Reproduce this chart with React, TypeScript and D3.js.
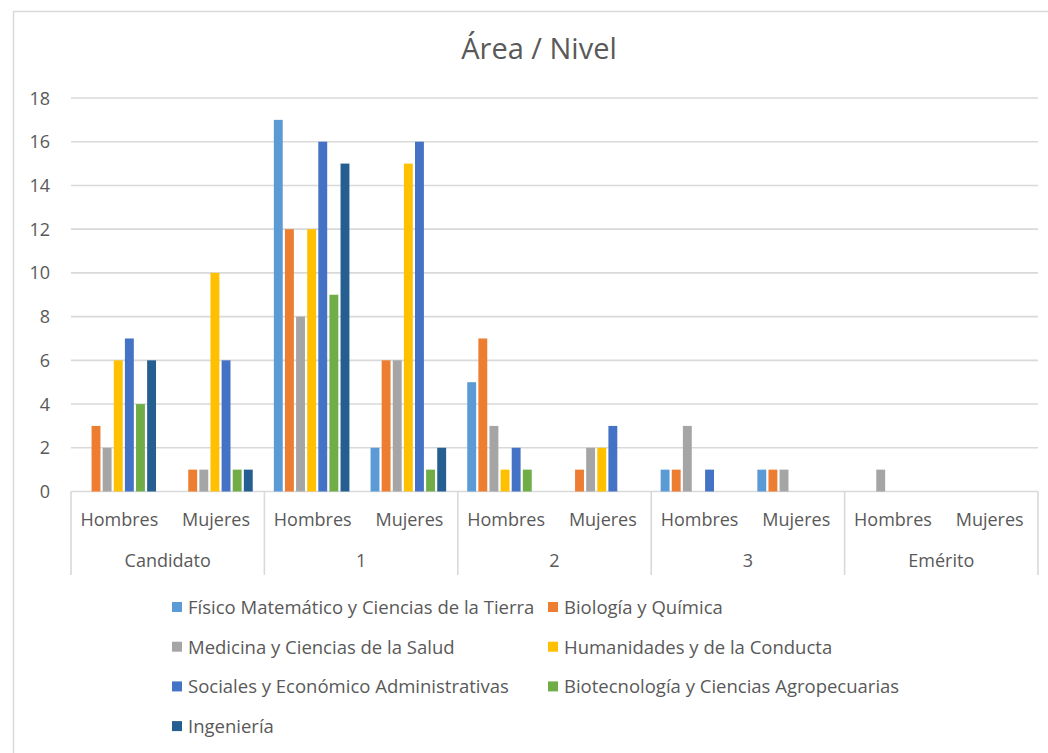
import React from "react";
import * as d3 from "d3";

const title = "Área / Nivel";
const levels = ["Candidato", "1", "2", "3", "Emérito"];
const genders = ["Hombres", "Mujeres"];
const seriesNames = [
  "Físico Matemático y Ciencias de la Tierra",
  "Biología y Química",
  "Medicina y Ciencias de la Salud",
  "Humanidades y de la Conducta",
  "Sociales y Económico Administrativas",
  "Biotecnología y Ciencias Agropecuarias",
  "Ingeniería",
];
const seriesColors = ["#5B9BD5", "#ED7D31", "#A5A5A5", "#FFC000", "#4472C4", "#70AD47", "#255E91"];

// values per series, order: Candidato H, M, 1 H, M, 2 H, M, 3 H, M, Emérito H, M
const fisico = [0, 0, 17, 2, 5, 0, 1, 1, 0, 0];
const biologia = [3, 1, 12, 6, 7, 1, 1, 1, 0, 0];
const medicina = [2, 1, 8, 6, 3, 2, 3, 1, 1, 0];
const humanidades = [6, 10, 12, 15, 1, 2, 0, 0, 0, 0];
const sociales = [7, 6, 16, 16, 2, 3, 1, 0, 0, 0];
const biotecnologia = [4, 1, 9, 1, 1, 0, 0, 0, 0, 0];
const ingenieria = [6, 1, 15, 2, 0, 0, 0, 0, 0, 0];
const seriesValues = [fisico, biologia, medicina, humanidades, sociales, biotecnologia, ingenieria];

const yTicks = [0, 2, 4, 6, 8, 10, 12, 14, 16, 18];

const W = 1048;
const H = 753;
const FONT = "'Open Sans', 'Noto Sans', sans-serif";
const TEXT = "#595959";
const GRID = "#d9d9d9";

export default function App() {
  const plotLeft = 71;
  const plotRight = 1038;
  const plotTop = 98;
  const plotBottom = 491.5;

  const subKeys = d3.range(levels.length * genders.length);
  const x0 = d3.scaleBand<number>().domain(subKeys).range([plotLeft, plotRight]).padding(0);
  const x1 = d3
    .scaleBand<number>()
    .domain(d3.range(seriesNames.length))
    .range([0, x0.bandwidth()])
    .paddingInner(0)
    .paddingOuter(0.85);
  const barW = x1.bandwidth() * 0.8;
  const y = d3.scaleLinear().domain([0, 18]).range([plotBottom, plotTop]);

  const levelW = (plotRight - plotLeft) / levels.length;
  const legendX = [172, 548];
  const legendY0 = 614;
  const legendDy = 39.7;

  return (
    <div style={{ position: "absolute", left: 0, top: 0 }}>
      <svg width={W} height={H} style={{ display: "block", background: "#fff" }}>
        <rect x={13.5} y={11.5} width={W + 20} height={H + 20} fill="#fff" stroke={GRID} strokeWidth={1.5} />
        <text x={539} y={59} textAnchor="middle" fontFamily={FONT} fontSize={29} fill={TEXT}>
          {title}
        </text>

        {yTicks.map((t) => (
          <g key={t}>
            <line x1={plotLeft} x2={plotRight} y1={y(t)} y2={y(t)} stroke={GRID} strokeWidth={1.6} />
            <text x={50} y={y(t) + 6.5} textAnchor="end" fontFamily={FONT} fontSize={18} fill={TEXT}>
              {t}
            </text>
          </g>
        ))}

        {seriesValues.map((vals, si) => (
          <g key={si} fill={seriesColors[si]}>
            {vals.map((v, k) =>
              v > 0 ? (
                <rect
                  key={k}
                  x={(x0(k) as number) + (x1(si) as number)}
                  y={y(v)}
                  width={barW}
                  height={y(0) - y(v)}
                />
              ) : null
            )}
          </g>
        ))}

        {d3.range(levels.length + 1).map((i) => (
          <line
            key={i}
            x1={plotLeft + i * levelW}
            x2={plotLeft + i * levelW}
            y1={plotBottom}
            y2={575}
            stroke={GRID}
            strokeWidth={1.6}
          />
        ))}

        {subKeys.map((k) => (
          <text
            key={k}
            x={(x0(k) as number) + x0.bandwidth() / 2}
            y={526}
            textAnchor="middle"
            fontFamily={FONT}
            fontSize={18}
            fill={TEXT}
          >
            {genders[k % genders.length]}
          </text>
        ))}
        {levels.map((l, i) => (
          <text
            key={l}
            x={plotLeft + (i + 0.5) * levelW}
            y={567}
            textAnchor="middle"
            fontFamily={FONT}
            fontSize={18}
            fill={TEXT}
          >
            {l}
          </text>
        ))}

        {seriesNames.map((name, i) => {
          const col = i % 2;
          const row = Math.floor(i / 2);
          const lx = legendX[col];
          const ly = legendY0 + row * legendDy;
          return (
            <g key={name}>
              <rect x={lx} y={ly - 12} width={10} height={10} fill={seriesColors[i]} />
              <text x={lx + 16} y={ly} fontFamily={FONT} fontSize={18.5} fill={TEXT}>
                {name}
              </text>
            </g>
          );
        })}
      </svg>
    </div>
  );
}
